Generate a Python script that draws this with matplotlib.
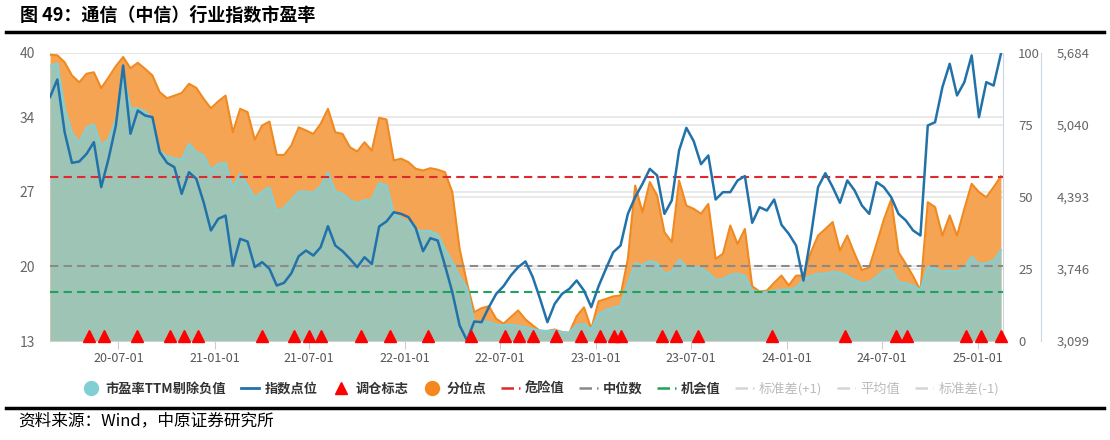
import matplotlib
matplotlib.use("Agg")
import matplotlib.pyplot as plt
import matplotlib.dates as mdates
from matplotlib.lines import Line2D
from matplotlib.ticker import FuncFormatter
import pandas as pd

plt.rcParams['font.family'] = ['Noto Sans CJK SC', 'DejaVu Sans']

# biweekly samples
dates = pd.date_range("2020-02-21", periods=131, freq="14D")

pe = [38.8, 39.0, 34.8, 32.5, 31.6, 33.0, 33.3, 31.3, 31.9, 33.7,
      38.0, 34.8, 34.8, 34.5, 33.8, 30.8, 30.3, 30.1, 30.0, 31.5,
      30.7, 30.4, 29.0, 29.6, 29.7, 27.3, 28.7, 27.6, 26.4, 27.0,
      27.4, 25.1, 25.5, 26.2, 27.0, 27.0, 26.9, 27.5, 28.8, 27.0,
      26.8, 26.2, 25.9, 26.2, 26.2, 27.8, 27.6, 24.9, 24.5, 24.1,
      23.4, 23.3, 23.3, 23.0, 21.6, 20.4, 19.0, 18.0, 14.7, 14.8,
      14.8, 14.5, 14.5, 14.5, 14.4, 14.3, 14.1, 14.0, 13.9, 14.0,
      13.8, 13.8, 14.5, 14.6, 14.1, 15.5, 15.9, 16.1, 16.3, 18.3,
      20.3, 20.1, 20.5, 20.3, 19.3, 19.5, 20.6, 20.0, 20.0, 19.8,
      19.4, 18.7, 18.8, 19.2, 19.3, 19.1, 17.7, 17.6, 17.6, 17.7,
      17.8, 17.8, 18.0, 18.7, 19.1, 19.3, 19.3, 19.5, 19.4, 19.1,
      18.7, 18.4, 18.5, 19.0, 19.6, 19.7, 18.5, 18.4, 18.2, 17.8,
      19.9, 19.8, 19.5, 19.6, 19.5, 19.8, 20.9, 20.2, 20.3, 20.5, 21.5]

pct = [99.4, 99.2, 96.8, 92.2, 89.8, 92.8, 93.3, 87.8, 91.5, 95.4,
       98.6, 94.7, 96.6, 94.5, 92.2, 86.4, 84.3, 85.2, 86.1, 89.3,
       87.9, 84.1, 80.8, 83.2, 85.2, 72.5, 80.6, 79.5, 69.9, 74.8,
       76.2, 64.6, 64.6, 67.9, 74.2, 73.1, 71.9, 75.4, 80.6, 72.5,
       71.9, 67.3, 65.8, 69.0, 66.1, 77.5, 76.9, 62.7, 63.3, 62.1,
       59.8, 59.2, 60.0, 59.5, 58.6, 51.7, 32.0, 20.2, 10.0, 11.4,
       12.1, 7.7, 6.0, 8.3, 10.6, 7.5, 5.4, 3.5, 3.5, 4.0,
       3.1, 2.8, 8.6, 11.7, 4.2, 13.8, 14.6, 15.5, 15.8, 28.5,
       54.0, 44.7, 55.2, 50.5, 37.8, 34.3, 55.7, 47.0, 45.9, 44.2,
       47.6, 28.5, 30.3, 40.1, 33.7, 38.9, 19.0, 17.2, 17.5, 20.2,
       22.7, 19.3, 22.7, 22.7, 30.6, 36.6, 38.9, 41.3, 31.4, 36.6,
       30.3, 24.6, 25.6, 33.7, 42.2, 49.1, 30.8, 26.8, 22.5, 17.5,
       48.2, 46.5, 36.6, 43.6, 36.6, 45.9, 54.6, 51.7, 49.9, 53.4, 57.2]

idx = [5288, 5446, 4974, 4698, 4710, 4779, 4884, 4480, 4734, 5033,
       5572, 4959, 5168, 5123, 5108, 4794, 4698, 4659, 4420, 4614,
       4555, 4345, 4091, 4196, 4225, 3777, 4016, 3992, 3762, 3807,
       3747, 3597, 3621, 3708, 3860, 3911, 3866, 3941, 4130, 3956,
       3905, 3837, 3762, 3851, 3789, 4127, 4172, 4255, 4240, 4211,
       4112, 3905, 4022, 4001, 3777, 3537, 3238, 3105, 3274, 3268,
       3403, 3522, 3591, 3687, 3762, 3813, 3672, 3477, 3268, 3433,
       3522, 3567, 3642, 3552, 3403, 3591, 3747, 3896, 3956, 4240,
       4390, 4510, 4644, 4585, 4240, 4360, 4809, 5012, 4893, 4686,
       4764, 4369, 4435, 4435, 4540, 4579, 4160, 4300, 4270, 4369,
       4142, 4061, 3956, 3642, 4031, 4480, 4605, 4480, 4339, 4540,
       4450, 4315, 4240, 4525, 4480, 4390, 4240, 4181, 4091, 4046,
       5033, 5063, 5377, 5587, 5303, 5422, 5662, 5108, 5422, 5392, 5677]

signal_dates = pd.to_datetime([
    "2020-05-05", "2020-06-04", "2020-08-05", "2020-10-07", "2020-11-04", "2020-12-01",
    "2021-04-02", "2021-06-02", "2021-07-01", "2021-07-23", "2021-10-08", "2021-12-03",
    "2022-02-14", "2022-05-06", "2022-07-10", "2022-08-06", "2022-09-02", "2022-10-16",
    "2022-12-03", "2023-01-08", "2023-02-04", "2023-02-18", "2023-05-07", "2023-06-03",
    "2023-07-15", "2023-12-04", "2024-04-22", "2024-07-29", "2024-08-18", "2024-12-09",
    "2025-01-06", "2025-02-14"])

danger, median, chance = 28.36, 20.05, 17.58

pe_ticks = [13, 20, 27, 34, 40]
pct_ticks = [0, 25, 50, 75, 100]
idx_ticks = [3099, 3746, 4393, 5040, 5684]

fig = plt.figure(figsize=(11.1, 4.4), dpi=100)
ax = fig.add_axes([50/1110, 99/440, 953/1110, 288/440])
ax2 = ax.twinx()
ax3 = ax.twinx()
ax2.set_zorder(0)
ax.set_zorder(1)
ax3.set_zorder(2)
ax.patch.set_visible(False)
ax3.patch.set_visible(False)

# percentile area (in percentile units) under the PE area
ax.fill_between(dates, pct, 0, color="#F5A453", lw=0, transform=ax2.transData, zorder=1)
ax.plot(dates, pct, color="#F0891F", lw=1.5, transform=ax2.transData, zorder=1.2)
ax.fill_between(dates, pe, 13, color="#9EC4B6", lw=0, zorder=2)
ax.plot(dates, pe, color="#84CFD3", lw=1.6, zorder=2.2)

ax.axhline(danger, color="#DD2A2E", lw=1.5, ls=(0, (4, 2.5)), zorder=3)
ax.axhline(median, color="#8A8A8A", lw=1.5, ls=(0, (4, 2.5)), zorder=3)
ax.axhline(chance, color="#1FA35A", lw=1.5, ls=(0, (4, 2.5)), zorder=3)

ax3.plot(dates, idx, color="#2272AA", lw=1.8, zorder=3)
ax3.plot(signal_dates, [0.017] * len(signal_dates), ls="none", marker="^", ms=9,
         color="#FF0000", transform=ax3.get_xaxis_transform(), clip_on=False, zorder=4)

ax.set_xlim(dates[0], pd.Timestamp("2025-02-18"))
ax.set_ylim(13, 40)
ax2.set_ylim(0, 100)
ax3.set_ylim(3099, 5684)

ax.set_yticks(pe_ticks)
ax2.set_yticks(pct_ticks)
ax3.set_yticks(idx_ticks)
ax3.yaxis.set_major_formatter(FuncFormatter(lambda v, p: f"{int(v):,}"))

ax.set_axisbelow(True)
ax2.set_axisbelow(True)
ax.yaxis.grid(True, color="#E6E6E6", lw=1.2)
ax2.yaxis.grid(True, color="#E6E6E6", lw=1.2)

ax.xaxis.set_major_locator(mdates.MonthLocator(bymonth=[1, 7]))
ax.xaxis.set_major_formatter(mdates.DateFormatter("%y-%m-%d"))
ax.tick_params(axis="x", length=6, color="#CCCCCC", labelsize=9, labelcolor="#555555", pad=2)
ax.tick_params(axis="y", length=0, pad=11, labelsize=10, labelcolor="#666666")
ax2.tick_params(axis="y", length=0, pad=11, labelsize=9.5, labelcolor="#666666")
ax3.tick_params(axis="y", length=0, pad=11.5, labelsize=9.5, labelcolor="#666666")

for a in (ax, ax2, ax3):
    for s in a.spines.values():
        s.set_visible(False)
ax.spines["bottom"].set_visible(True)
ax.spines["bottom"].set_color("#D0D0D0")
ax2.spines["right"].set_visible(True)
ax2.spines["right"].set_color("#C9D7E6")
ax3.spines["right"].set_visible(True)
ax3.spines["right"].set_color("#C9D7E6")
ax3.spines["right"].set_position(("outward", 27))

dashdot = (0, (5, 2, 1.5, 2))
handles = [
    Line2D([], [], ls="none", marker="o", ms=10, color="#80CFD5"),
    Line2D([], [], color="#2272AA", lw=2),
    Line2D([], [], ls="none", marker="^", ms=9, color="#FF0000"),
    Line2D([], [], ls="none", marker="o", ms=10, color="#F5871F"),
    Line2D([], [], color="#DD2A2E", lw=1.8, ls=dashdot),
    Line2D([], [], color="#8A8A8A", lw=1.8, ls=dashdot),
    Line2D([], [], color="#1FA35A", lw=1.8, ls=dashdot),
    Line2D([], [], color="#D5D5D5", lw=1.8, ls=dashdot),
    Line2D([], [], color="#D5D5D5", lw=1.8, ls=dashdot),
    Line2D([], [], color="#D5D5D5", lw=1.8, ls=dashdot),
]
labels = ["市盈率TTM剔除负值", "指数点位", "调仓标志", "分位点", "危险值", "中位数",
          "机会值", "标准差(+1)", "平均值", "标准差(-1)"]
leg = fig.legend(handles, labels, loc="center", bbox_to_anchor=(0.487, 0.116), ncol=10,
                 frameon=False, fontsize=9.5, handlelength=1.4, handletextpad=0.4,
                 columnspacing=1.1)
for i, t in enumerate(leg.get_texts()):
    if i < 7:
        t.set_color("#333333")
        t.set_fontweight("bold")
    else:
        t.set_color("#BBBBBB")

fig.text(0.018, 0.966, "图 49：通信（中信）行业指数市盈率", fontsize=13,
         fontweight="bold", va="center")
fig.add_artist(Line2D([0.005, 0.995], [1 - 32/440] * 2, transform=fig.transFigure,
                      color="black", lw=2.5))
fig.add_artist(Line2D([0.005, 0.995], [1 - 408/440] * 2, transform=fig.transFigure,
                      color="black", lw=2.5))
fig.text(0.016, 0.043, "资料来源：Wind，中原证券研究所", fontsize=12, va="center")

fig.savefig("out.png", dpi=100)
